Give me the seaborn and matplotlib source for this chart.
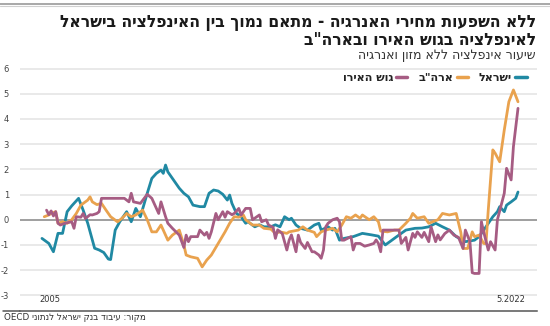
import re
import numpy as np
import pandas as pd
import matplotlib
matplotlib.use("Agg")
import matplotlib.pyplot as plt
import matplotlib.transforms as mtransforms
from matplotlib.lines import Line2D
import seaborn as sns

# ---------------- data (months since Jan 2005, core inflation %) ----------------
israel_month = [0, 3, 5, 7, 9, 11, 13, 16, 18, 20, 23, 25, 27, 29, 30, 32, 34, 37, 39, 41, 43,
                46, 48, 50, 52, 53, 54, 55, 56, 57, 60, 62, 64, 66, 69, 71, 73, 75, 77, 79, 81,
                82, 83, 84, 85, 87, 89, 90, 93, 95, 97, 100, 102, 104, 106, 108, 109, 111, 113,
                116, 119, 121, 122, 125, 127, 128, 130, 132, 136, 140, 144, 147, 150, 152, 155,
                159, 163, 166, 169, 172, 175, 178, 181, 185, 189, 191, 194, 197, 199, 200, 202,
                203, 205, 207, 208]
israel_val = [-0.74, -0.94, -1.27, -0.54, -0.54, 0.32, 0.55, 0.85, 0.38, -0.14, -1.13, -1.2,
              -1.3, -1.56, -1.58, -0.41, -0.08, 0.32, -0.08, 0.45, 0.12, 1.05, 1.64, 1.84, 1.97,
              1.84, 2.17, 1.9, 1.77, 1.64, 1.25, 1.05, 0.91, 0.58, 0.52, 0.52, 1.05, 1.18, 1.14,
              1.01, 0.78, 0.98, 0.65, 0.45, 0.25, 0.12, -0.14, -0.08, -0.28, -0.2, -0.28, -0.28,
              -0.2, -0.28, 0.12, 0.0, 0.06, -0.21, -0.34, -0.41, -0.21, -0.14, -0.41, -0.28,
              -0.41, -0.34, -0.81, -0.74, -0.67, -0.54, -0.6, -0.65, -1.0, -0.87, -0.67, -0.41,
              -0.34, -0.33, -0.28, -0.14, -0.28, -0.41, -0.67, -0.87, -0.81, -0.67, -0.28, 0.12,
              0.32, 0.52, 0.32, 0.58, 0.71, 0.85, 1.1]

us_month = [1, 3, 4, 6, 7, 9, 11, 13, 15, 17, 20, 21, 22, 24, 26, 28, 30, 33, 35, 37, 39, 41,
            44, 46, 48, 50, 52, 55, 57, 60, 62, 63, 65, 68, 70, 72, 74, 77, 80, 82, 84, 86, 88,
            89, 92, 95, 97, 100, 102, 104, 107, 108, 112, 114, 116, 119, 120, 122, 124, 127,
            129, 131, 133, 135, 137, 139, 140, 143, 145, 147, 148, 151, 154, 156, 159, 161,
            162, 164, 167, 169, 173, 175, 178, 181, 183, 184, 186, 188, 189, 191, 193, 194,
            195, 196, 197, 198, 200, 202, 204, 206, 208]
us_val = [0.12, 0.19, 0.25, 0.32, -0.14, -0.08, -0.14, 0.0, 0.25, 0.58, 0.78, 0.91, 0.71, 0.6,
          0.65, 0.38, 0.12, -0.08, 0.06, 0.25, 0.12, 0.19, 0.38, 0.0, -0.48, -0.48, -0.21,
          -0.81, -0.61, -0.41, -1.0, -1.4, -1.47, -1.53, -1.87, -1.6, -1.4, -0.94, -0.48, -0.14,
          0.12, 0.1, 0.19, 0.0, -0.21, -0.21, -0.34, -0.37, -0.54, -0.48, -0.54, -0.48, -0.41,
          -0.28, -0.41, -0.5, -0.67, -0.48, -0.41, -0.34, -0.48, -0.21, 0.12, 0.06, 0.19, 0.06,
          0.19, 0.0, 0.12, -0.08, -0.45, -0.48, -0.41, -0.41, -0.14, 0.06, 0.25, 0.06, 0.12,
          -0.14, 0.0, 0.25, 0.19, 0.25, -0.5, -1.14, -1.14, -0.48, -0.67, -0.61, -0.94, -0.95,
          0.38, 1.58, 2.77, 2.64, 2.3, 3.56, 4.68, 5.15, 4.68]

euro_month = [2, 3, 4, 5, 6, 7, 8, 10, 13, 14, 15, 17, 18, 19, 21, 22, 24, 25, 26, 30, 34, 36,
              38, 39, 40, 43, 46, 48, 49, 51, 52, 54, 55, 57, 60, 62, 63, 64, 65, 68, 69, 71,
              72, 73, 74, 76, 77, 79, 80, 81, 83, 84, 86, 87, 89, 91, 92, 95, 96, 98, 99, 101,
              102, 103, 105, 107, 108, 109, 111, 112, 113, 115, 116, 118, 119, 121, 122, 123,
              124, 125, 127, 129, 130, 131, 132, 135, 136, 137, 139, 141, 143, 145, 146, 147,
              148, 149, 152, 156, 157, 159, 160, 162, 163, 164, 166, 167, 169, 170, 172, 173,
              174, 176, 178, 180, 182, 184, 185, 187, 188, 189, 191, 192, 193, 195, 196, 198,
              199, 202, 203, 205, 206, 208]
euro_val = [0.38, 0.2, 0.35, 0.15, 0.32, -0.14, -0.21, -0.14, -0.08, -0.34, 0.12, 0.1, 0.25,
            0.05, 0.2, 0.19, 0.25, 0.32, 0.85, 0.85, 0.85, 0.85, 0.71, 1.05, 0.71, 0.65, 1.01,
            0.85, 0.65, 0.25, 0.71, 0.12, -0.14, -0.34, -0.61, -1.1, -0.61, -0.87, -0.67, -0.67,
            -0.41, -0.61, -0.5, -0.74, -0.48, 0.25, 0.0, 0.32, 0.1, 0.32, 0.2, 0.25, 0.45, 0.19,
            0.45, 0.45, 0.0, 0.19, -0.08, 0.0, -0.21, -0.3, -0.74, -0.4, -0.55, -1.2, -0.81,
            -0.6, -1.27, -0.61, -0.9, -1.14, -0.9, -1.27, -1.27, -1.4, -1.53, -1.2, -0.28,
            -0.14, 0.0, 0.06, -0.08, -0.81, -0.81, -0.67, -1.2, -0.94, -0.94, -1.05, -1.0,
            -0.94, -0.8, -0.94, -1.27, -0.41, -0.41, -0.41, -0.94, -0.7, -1.2, -0.54, -0.7,
            -0.48, -0.7, -0.5, -0.87, -0.28, -0.87, -0.6, -0.8, -0.55, -0.41, -0.61, -0.7,
            -1.14, -0.41, -0.87, -2.1, -2.13, -2.13, -0.08, -0.48, -1.2, -0.87, -1.2, 0.0, 1.05,
            2.04, 1.58, 2.9, 4.42]

series_names = ["ישראל", 'ארה"ב', "גוש האירו"]
series_colors = ["#2089a3", "#e9a24e", "#a65c83"]
y_ticks = [-3, -2, -1, 0, 1, 2, 3, 4, 5, 6]
x_tick_months = [-2.6, 212.4]
x_tick_labels = ["2005", "5.2022"]

title_lines = ["ללא השפעות מחירי האנרגיה - מתאם נמוך בין האינפלציה בישראל",
               'לאינפלציה בגוש האירו ובארה"ב']
subtitle = "שיעור אינפלציה ללא מזון ואנרגיה"
source = "מקור: עיבוד בנק ישראל לנתוני OECD"


def vis(s):
    """Convert logical-order RTL text to visual order for left-to-right rendering."""
    tokens = re.findall(r"[A-Za-z0-9.]+|[^A-Za-z0-9.]+", s)
    out = []
    for t in reversed(tokens):
        if re.match(r"[A-Za-z0-9.]", t):
            out.append(t)
        else:
            out.append(t[::-1])
    return "".join(out)


df = pd.concat([
    pd.DataFrame({"month": israel_month, "value": israel_val, "series": series_names[0]}),
    pd.DataFrame({"month": us_month, "value": us_val, "series": series_names[1]}),
    pd.DataFrame({"month": euro_month, "value": euro_val, "series": series_names[2]}),
], ignore_index=True)

sns.set_theme(style="white")
plt.rcParams["font.family"] = ["DejaVu Sans"]

W, H = 550, 326
fig = plt.figure(figsize=(W / 100, H / 100), dpi=100)
fig.patch.set_facecolor("white")
ax = fig.add_axes([20 / W, 1 - 311 / H, 517 / W, (311 - 68) / H])

ax.set_ylim(-3.62, 6.02)
ax.set_xlim(-9.6, 216.3)
ax.set_yticks(y_ticks)
ax.set_yticklabels([str(v) for v in y_ticks])
ax.grid(axis="y", color="#e3e3e3", linewidth=1.1)
ax.grid(axis="x", visible=False)
ax.axhline(0, color="#8c8c8c", linewidth=1.1, zorder=1)

sns.lineplot(data=df, x="month", y="value", hue="series", hue_order=series_names,
             palette=series_colors, linewidth=2.0, estimator=None, legend=False, ax=ax,
             zorder=3)
ax.set_xlabel("")
ax.set_ylabel("")

for s in ["top", "right", "left"]:
    ax.spines[s].set_visible(False)
ax.spines["bottom"].set_color("#555555")
ax.spines["bottom"].set_linewidth(1.1)

ax.tick_params(axis="y", length=0, pad=8, labelsize=6, labelcolor="#444444")
ax.set_xticks(x_tick_months)
ax.set_xticklabels([])
ax.tick_params(axis="x", direction="in", length=15, width=0.9, color="#555555")

trans = mtransforms.blended_transform_factory(ax.transData, ax.transAxes)
for pos, lab in zip(x_tick_months, x_tick_labels):
    if lab == x_tick_labels[0]:
        ax.text(pos, 0.028, lab, transform=trans + mtransforms.ScaledTranslation(3 / 100, 0, fig.dpi_scale_trans),
                ha="left", va="bottom", fontsize=6, color="#333333")
    else:
        ax.text(pos, 0.028, lab, transform=trans + mtransforms.ScaledTranslation(-3 / 100, 0, fig.dpi_scale_trans),
                ha="right", va="bottom", fontsize=6, color="#333333")

# legend (RTL order: text then swatch)
order = [2, 1, 0]
handles = [Line2D([], [], color=series_colors[i], linewidth=2.5) for i in order]
labels = [vis(series_names[i]) for i in order]
leg = ax.legend(handles, labels, ncol=3, markerfirst=False, frameon=False,
                loc="center right", bbox_to_anchor=(531 / W, 1 - 78 / H),
                bbox_transform=fig.transFigure, handlelength=1.0, handletextpad=0.3,
                columnspacing=1.0, prop={"size": 8, "weight": "bold"}, borderaxespad=0)
for t in leg.get_texts():
    t.set_color("#222222")

# titles
fig.text(536 / W, 1 - 22 / H, vis(title_lines[0]), ha="right", va="center",
         fontsize=12.5, fontweight="bold", fontstretch="condensed", color="#1a1a1a")
fig.text(536 / W, 1 - 40 / H, vis(title_lines[1]), ha="right", va="center",
         fontsize=12.5, fontweight="bold", fontstretch="condensed", color="#1a1a1a")
fig.text(536 / W, 1 - 56 / H, vis(subtitle), ha="right", va="center",
         fontsize=9, color="#333333")
fig.text(4 / W, 1 - 318 / H, vis(source), ha="left", va="center",
         fontsize=6.3, color="#333333")

# top rule lines and bottom rule
fig.add_artist(Line2D([0, 1], [1 - 3.5 / H, 1 - 3.5 / H], color="#9a9a9a", linewidth=1.2,
                      transform=fig.transFigure))
fig.add_artist(Line2D([0, 1], [1 - 6 / H, 1 - 6 / H], color="#d0d0d0", linewidth=0.8,
                      transform=fig.transFigure))
fig.add_artist(Line2D([3 / W, 20 / W], [1 - 311 / H, 1 - 311 / H], color="#555555",
                      linewidth=1.1, transform=fig.transFigure))

fig.savefig("out.png", dpi=100, facecolor="white")
